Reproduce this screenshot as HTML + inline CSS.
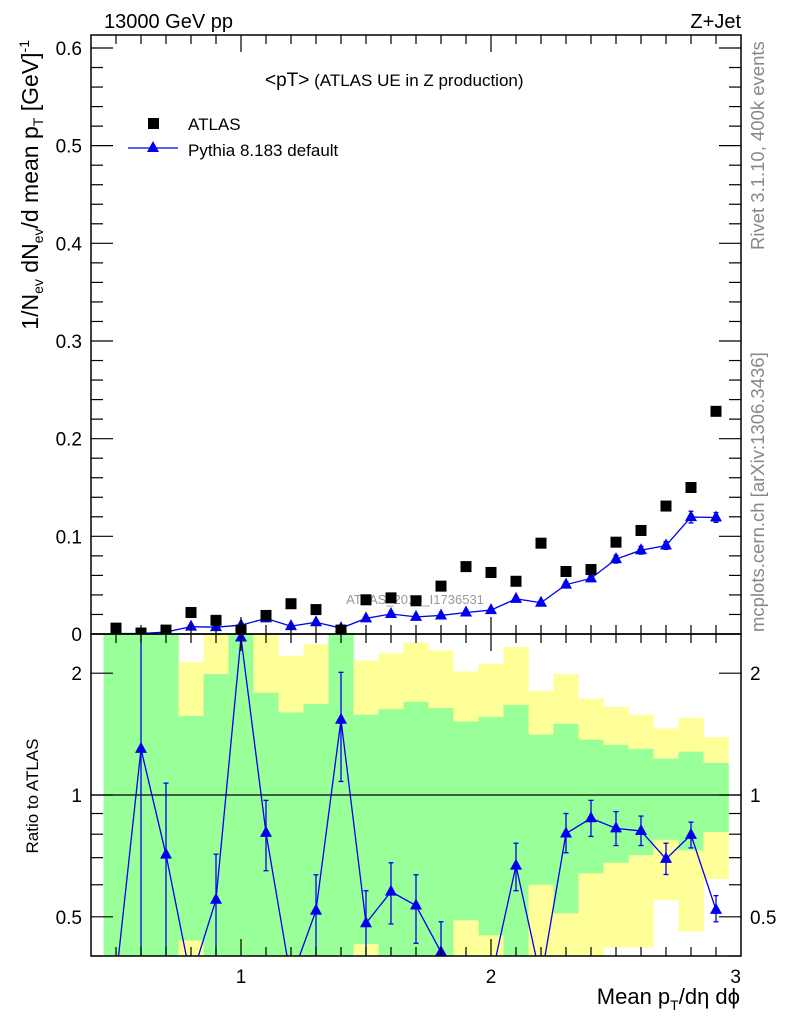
<!DOCTYPE html>
<html><head><meta charset="utf-8"><style>
html,body{margin:0;padding:0;background:#fff;}
svg{display:block;font-family:"Liberation Sans",Arial,sans-serif;}
</style></head><body>
<svg id="c" width="786" height="1024" viewBox="0 0 786 1024" xmlns="http://www.w3.org/2000/svg"></svg>
<script>
const binCenters=[0.5,0.6,0.7,0.8,0.9,1.0,1.1,1.2,1.3,1.4,1.5,1.6,1.7,1.8,1.9,2.0,2.1,2.2,2.3,2.4,2.5,2.6,2.7,2.8,2.9];
const atlasValues=[0.006,0.001,0.004,0.022,0.014,0.004,0.019,0.031,0.025,0.004,0.035,0.037,0.034,0.049,0.069,0.063,0.054,0.093,0.064,0.066,0.094,0.106,0.131,0.150,0.228];
const pythiaValues=[0.0005,0.0005,0.002,0.0075,0.007,0.009,0.016,0.008,0.012,0.006,0.016,0.0205,0.0175,0.019,0.022,0.0245,0.036,0.032,0.0505,0.057,0.0766,0.0858,0.0906,0.1197,0.1193];
const pythiaErrors=[0.001,0.001,0.001,0.001,0.001,0.001,0.0015,0.001,0.0015,0.001,0.0015,0.0015,0.0015,0.0015,0.0015,0.002,0.002,0.002,0.003,0.003,0.004,0.004,0.004,0.006,0.005];
const ratioValues=[0.2,1.30,0.712,0.3,0.551,2.45,0.806,0.3,0.518,1.535,0.482,0.577,0.533,0.409,0.3,0.35,0.669,0.3,0.803,0.876,0.827,0.815,0.695,0.797,0.52];
const ratioErrLo=[0.2,0.3,0.3,0.3,0.3,2.45,0.65,0.3,0.3,1.08,0.3,0.48,0.43,0.3,0.3,0.35,0.58,0.3,0.72,0.79,0.75,0.75,0.636,0.74,0.486];
const ratioErrHi=[0.2,3,1.07,0.3,0.714,2.45,0.97,0.3,0.635,2.01,0.58,0.68,0.635,0.486,0.3,0.35,0.76,0.3,0.9,0.97,0.91,0.887,0.76,0.857,0.564];
const yellowHi=[3,3,3,2.13,3,3,3,2.21,2.36,3,2.15,2.24,2.38,2.28,2.02,2.11,2.32,1.81,1.99,1.73,1.65,1.58,1.46,1.55,1.39];
const greenHi=[3,3,3,1.57,1.99,3,1.79,1.60,1.68,3,1.58,1.63,1.70,1.64,1.52,1.56,1.67,1.41,1.50,1.37,1.33,1.30,1.23,1.28,1.20];
const greenLo=[0.3,0.3,0.3,0.437,0.3,0.3,0.3,0.3,0.3,0.3,0.428,0.3,0.3,0.3,0.49,0.45,0.3,0.60,0.51,0.64,0.68,0.71,0.775,0.73,0.81];
const yellowLo=[0.3,0.3,0.3,0.3,0.3,0.3,0.3,0.3,0.3,0.3,0.3,0.3,0.3,0.3,0.3,0.3,0.3,0.3,0.3,0.3,0.42,0.42,0.55,0.46,0.62];
const mainYTicks=[0,0.1,0.2,0.3,0.4,0.5,0.6];
const mainYLabels=["0","0.1","0.2","0.3","0.4","0.5","0.6"];
const ratioTicks=[0.5,1,2];
const ratioLabels=["0.5","1","2"];
const xTicks=[1,2,3];
const xLabels=["1","2","3"];

const NS="http://www.w3.org/2000/svg";
const svg=document.getElementById('c');
const L=91,R=741,T=35,MB=634,RT=634,RB=956;
const X0=0.4,X1=3.0;
const YMAX=0.6133;
function sx(v){return L+(v-X0)/(X1-X0)*(R-L);}
function sy(v){return MB-(v/YMAX)*(MB-T);}
const lr0=Math.log(0.4),lr1=Math.log(2.5);
function ry(v){v=Math.max(0.35,Math.min(2.7,v));return RB-(Math.log(v)-lr0)/(lr1-lr0)*(RB-RT);}
function ryc(v){v=Math.max(0.4,Math.min(2.5,v));return RB-(Math.log(v)-lr0)/(lr1-lr0)*(RB-RT);}
function el(tag,attrs,parent){const e=document.createElementNS(NS,tag);for(const k in attrs)e.setAttribute(k,attrs[k]);(parent||svg).appendChild(e);return e;}
function txt(s,x,y,attrs,parent){const t=el('text',Object.assign({x:x,y:y},attrs),parent);t.textContent=s;return t;}

const defs=el('defs',{});
const cp=el('clipPath',{id:'rclip'},defs);
el('rect',{x:L,y:RT,width:R-L,height:RB-RT},cp);
const cpm=el('clipPath',{id:'mclip'},defs);
el('rect',{x:L,y:T,width:R-L,height:MB-T},cpm);

const bandG=el('g',{'clip-path':'url(#rclip)'});


binCenters.forEach((c,i)=>{
  const x0=sx(c-0.05),x1=sx(c+0.05);
  const y=el('rect',{x:x0,y:ryc(yellowHi[i]),width:x1-x0+0.3,height:ryc(yellowLo[i])-ryc(yellowHi[i]),fill:'#ffff99'},bandG);
  
  
  const g=el('rect',{x:x0,y:ryc(greenHi[i]),width:x1-x0+0.3,height:ryc(greenLo[i])-ryc(greenHi[i]),fill:'#99ff99'},bandG);
  
  
});
const one=el('line',{x1:L,x2:R,y1:ry(1),y2:ry(1),stroke:'#000','stroke-width':1.3});



const rg=el('g',{'clip-path':'url(#rclip)'});


el('polyline',{points:binCenters.map((c,i)=>sx(c)+','+ry(ratioValues[i])).join(' '),fill:'none',stroke:'#0000ee','stroke-width':1.3},rg);
binCenters.forEach((c,i)=>{
  const x=sx(c);
  if(ratioErrHi[i]>ratioErrLo[i]){
    el('line',{x1:x,x2:x,y1:ry(ratioErrLo[i]),y2:ry(ratioErrHi[i]),stroke:'#0000ee','stroke-width':1.3},rg);
    [ratioErrLo[i],ratioErrHi[i]].forEach(v=>el('line',{x1:x-2.5,x2:x+2.5,y1:ry(v),y2:ry(v),stroke:'#0000ee','stroke-width':1.3},rg));
  }
  const y=ry(ratioValues[i]);
  const m=el('polygon',{points:`${x},${y-7} ${x-6},${y+4} ${x+6},${y+4}`,fill:'#0000ee'},rg);
  
  
});

const wm=txt('ATLAS_2019_I1736531',415,604,{'font-size':13,fill:'#999','text-anchor':'middle'});



const mg=el('g',{'clip-path':'url(#mclip)'});


el('polyline',{points:binCenters.map((c,i)=>sx(c)+','+sy(pythiaValues[i])).join(' '),fill:'none',stroke:'#0000ee','stroke-width':1.3},mg);
binCenters.forEach((c,i)=>{
  const x=sx(c);
  const a=sy(pythiaValues[i]-pythiaErrors[i]),b=sy(pythiaValues[i]+pythiaErrors[i]);
  el('line',{x1:x,x2:x,y1:a,y2:b,stroke:'#0000ee','stroke-width':1.3},mg);
  el('line',{x1:x-2.5,x2:x+2.5,y1:a,y2:a,stroke:'#0000ee','stroke-width':1.3},mg);
  el('line',{x1:x-2.5,x2:x+2.5,y1:b,y2:b,stroke:'#0000ee','stroke-width':1.3},mg);
  const y=sy(pythiaValues[i]);
  const m=el('polygon',{points:`${x},${y-7} ${x-6},${y+4} ${x+6},${y+4}`,fill:'#0000ee'},mg);
  
  
});
binCenters.forEach((c,i)=>{
  const x=sx(c),y=sy(atlasValues[i]);
  const s=el('rect',{x:x-5.5,y:y-5.5,width:11,height:11,fill:'#000'},mg);
  
  
});

[[T,MB],[RT,RB]].forEach(([a,b],k)=>{
  const f=el('rect',{x:L,y:a,width:R-L,height:b-a,fill:'none',stroke:'#000','stroke-width':1.5});
  
  
});

const tg=el('g',{stroke:'#000','stroke-width':1.2});


for(let k=5;k<30;k++){
  const v=k/10,x=sx(v);const major=(k%10===0);const len=major?17:9;
  [[MB,T],[RB,RT]].forEach(([b,t])=>{
    el('line',{x1:x,x2:x,y1:b,y2:b-len},tg);
    el('line',{x1:x,x2:x,y1:t,y2:t+len},tg);
  });
}
for(let k=0;k<=30;k++){
  const v=k*0.02;if(v>YMAX)break;const y=sy(v);const major=(k%5===0);const len=major?22:12;
  el('line',{x1:L,x2:L+len,y1:y,y2:y},tg);
  el('line',{x1:R,x2:R-len,y1:y,y2:y},tg);
}
[0.4,0.5,0.6,0.7,0.8,0.9,1,2].forEach(v=>{
  const y=ry(v);const major=(v===0.5||v===1||v===2);const len=major?22:12;
  el('line',{x1:L,x2:L+len,y1:y,y2:y},tg);
  el('line',{x1:R,x2:R-len,y1:y,y2:y},tg);
});

mainYTicks.forEach((v,i)=>{
  const t=txt(mainYLabels[i],82,sy(v)+7,{'font-size':19,'text-anchor':'end'});
  
  
});
ratioTicks.forEach((v,i)=>{
  const t=txt(ratioLabels[i],82,ry(v)+7,{'font-size':19,'text-anchor':'end'});
  
  
  const t2=txt(ratioLabels[i],750,ry(v)+7,{'font-size':19,'text-anchor':'start'});
  
  
});
xTicks.forEach((v,i)=>{
  const t=txt(xLabels[i],sx(v),983,{'font-size':19,'text-anchor':v===3?'end':'middle'});
  
  
});
</script>
<svg style="position:absolute;left:0;top:0" width="786" height="1024" xmlns="http://www.w3.org/2000/svg">
<g font-family="Liberation Sans, Arial, sans-serif">
<text x="104" y="28" font-size="20">13000 GeV pp</text>
<text x="741" y="28" font-size="20" text-anchor="end">Z+Jet</text>
<text x="265" y="86" font-size="17"><tspan font-size="19">&lt;pT&gt;</tspan> (ATLAS UE in Z production)</text>
<rect x="148" y="118" width="11" height="11" fill="#000"/>
<text x="188" y="130" font-size="17">ATLAS</text>
<line x1="128" x2="178" y1="148" y2="148" stroke="#0000ee" stroke-width="1.3"/>
<polygon points="153,141 147,152 159,152" fill="#0000ee"/>
<text x="188" y="156" font-size="17">Pythia 8.183 default</text>
<text transform="translate(38,40) rotate(-90)" font-size="23" text-anchor="end">1/N<tspan font-size="14" dy="5">ev</tspan><tspan dy="-5"> dN</tspan><tspan font-size="14" dy="5">ev</tspan><tspan dy="-5">/d mean p</tspan><tspan font-size="14" dy="5">T</tspan><tspan dy="-5">  [GeV]</tspan><tspan font-size="14" dy="-9">-1</tspan></text>
<text transform="translate(38,796) rotate(-90)" font-size="17" text-anchor="middle">Ratio to ATLAS</text>
<text x="740" y="1004" font-size="22" text-anchor="end">Mean p<tspan font-size="14" dy="6">T</tspan><tspan dy="-6">/dη dϕ</tspan></text>
<text transform="translate(764,250) rotate(-90)" font-size="18.5" fill="#888" text-anchor="start">Rivet 3.1.10,  400k events</text>
<text transform="translate(764,632) rotate(-90)" font-size="18.5" fill="#888" text-anchor="start">mcplots.cern.ch [arXiv:1306.3436]</text>
</g>
</svg>
</body></html>
